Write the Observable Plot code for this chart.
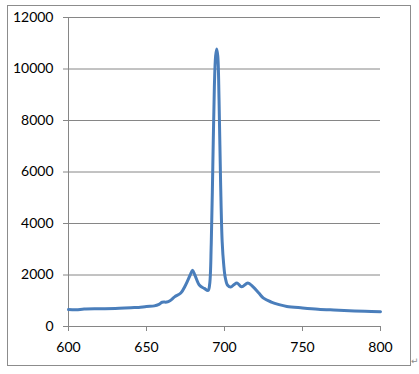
<!DOCTYPE html>
<html>
<head>
<meta charset="utf-8">
<script src="https://cdn.jsdelivr.net/npm/d3@7"></script>
<script src="https://cdn.jsdelivr.net/npm/@observablehq/plot@0.6"></script>
<style>
  html, body { margin: 0; padding: 0; background: #fff; }
  #wrap { position: relative; width: 419px; height: 374px; overflow: hidden; }
  #frame { position: absolute; left: 7px; top: 5px; width: 402px; height: 359px; border: 1px solid #8c8c8c; }
  #mark { position: absolute; left: 411px; top: 356px; font: 9px "DejaVu Sans", sans-serif; color: #8c8c8c; }
  #chart { position: absolute; left: 0; top: 0; }
</style>
</head>
<body>
<div id="wrap">
  <div id="frame"></div>
  <div id="chart"></div>
  <div id="mark">↵</div>
</div>
<script>
const wavelength = [600, 605, 610, 620, 630, 640, 645, 650, 655, 658, 660, 663, 665, 668, 672, 675, 678, 679.5, 681, 684, 687, 689.5, 690.5, 691.5, 692.5, 693.5, 694.3, 695, 695.7, 696.5, 697.5, 698.5, 699.5, 700.5, 702, 704, 706, 708, 711, 715, 718, 722, 725, 730, 735, 740, 750, 760, 770, 780, 790, 800];
const intensity  = [660, 650, 680, 690, 700, 730, 740, 780, 800, 860, 940, 950, 1000, 1150, 1300, 1600, 2000, 2180, 2000, 1600, 1480, 1400, 1650, 3200, 6200, 9300, 10500, 10780, 10500, 8800, 5600, 3300, 2400, 1900, 1600, 1530, 1620, 1690, 1540, 1690, 1560, 1300, 1100, 950, 850, 780, 720, 670, 640, 615, 590, 570];
const yTicks = [0, 2000, 4000, 6000, 8000, 10000, 12000];
const xTicks = [600, 650, 700, 750, 800];

const data = wavelength.map((w, i) => ({w, v: intensity[i]}));
const grey = "#868686";

const chart = Plot.plot({
  width: 419,
  height: 374,
  marginLeft: 68,
  marginRight: 39,
  marginTop: 17,
  marginBottom: 48,
  style: {fontFamily: "Lato, sans-serif", fontSize: "14px", color: "#000", background: "transparent"},
  x: {domain: [600, 800]},
  y: {domain: [0, 12000]},
  marks: [
    Plot.ruleY(yTicks, {stroke: grey, strokeWidth: 1}),
    Plot.ruleX([600], {y1: 0, y2: 12000, stroke: grey}),
    Plot.axisY({ticks: yTicks, tickSize: 5, tickPadding: 10, stroke: grey, fill: "#000", fontSize: 14, label: null, tickFormat: d => String(d)}),
    Plot.axisX({ticks: xTicks, tickSize: 5, tickPadding: 11, stroke: grey, fill: "#000", fontSize: 14, label: null, tickFormat: d => String(d)}),
    Plot.line(data, {x: "w", y: "v", stroke: "#4A7EBB", strokeWidth: 3, curve: "catmull-rom"})
  ]
});
document.getElementById("chart").appendChild(chart);
</script>
</body>
</html>
